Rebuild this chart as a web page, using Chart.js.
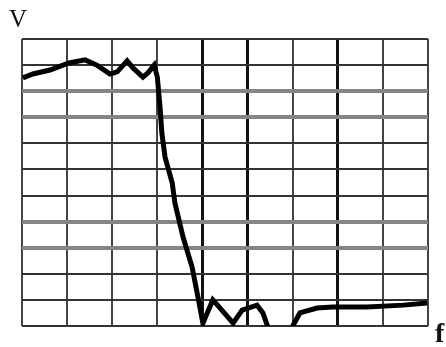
<!DOCTYPE html>
<html>
<head>
<meta charset="utf-8">
<script src="https://cdn.jsdelivr.net/npm/chart.js@4.4.0/dist/chart.umd.min.js"></script>
<style>
  html, body { margin: 0; padding: 0; background: #fff; }
  #wrap { position: relative; width: 446px; height: 347px; }
  .lbl { position: absolute; font-family: "Liberation Serif", "DejaVu Serif", serif; color: #111; line-height: 1; }
</style>
</head>
<body>
<div id="wrap">
  <canvas id="chart" width="446" height="347"></canvas>
  <div class="lbl" style="left:9px; top:6px; font-size:25px;">V</div>
  <div class="lbl" style="left:435px; top:319px; font-size:28px; font-weight:bold;">f</div>
</div>
<script>
// frequency (grid units) and response (grid units)
const freq = [0.02, 0.24, 0.62, 1.04, 1.40, 1.66, 1.95, 2.11, 2.33, 2.46, 2.68, 2.79, 2.93, 3.00,
  3.06, 3.10, 3.17, 3.33, 3.39, 3.57, 3.77, 3.90, 4.01, 4.23, 4.43, 4.68, 4.88, 5.21, 5.34, 5.45,
  5.70, 5.99, 6.16, 6.54, 6.89, 7.65, 8.45, 8.98];
const volts = [9.51, 9.66, 9.81, 10.08, 10.20, 10.00, 9.66, 9.74, 10.16, 9.89, 9.54, 9.70, 10.00, 9.54,
  8.39, 7.40, 6.48, 5.48, 4.71, 3.41, 2.26, 1.11, 0.11, 1.00, 0.61, 0.11, 0.61, 0.80, 0.50, -0.04,
  -0.8, -0.04, 0.50, 0.69, 0.73, 0.73, 0.80, 0.88];

const xMax = 9, yMax = 11;
const heavyX = [4, 5, 7];      // darker verticals
const shadedY = [3, 4, 8, 9];  // thick grey horizontals

const points = freq.map((f, i) => ({ x: f, y: volts[i] }));

new Chart(document.getElementById('chart'), {
  type: 'line',
  data: {
    datasets: [{
      data: points,
      borderColor: '#000',
      borderWidth: 5,
      pointRadius: 0,
      tension: 0,
      fill: false
    }]
  },
  options: {
    responsive: false,
    animation: false,
    layout: { padding: { left: 22, right: 18, top: 39, bottom: 21 } },
    plugins: { legend: { display: false }, tooltip: { enabled: false } },
    scales: {
      x: {
        type: 'linear', min: 0, max: xMax,
        ticks: { display: false, stepSize: 1 },
        border: { display: false },
        grid: {
          drawTicks: false,
          color: ctx => heavyX.includes(ctx.tick.value) ? '#111' : '#444',
          lineWidth: ctx => heavyX.includes(ctx.tick.value) ? 3 : 2
        }
      },
      y: {
        type: 'linear', min: 0, max: yMax,
        ticks: { display: false, stepSize: 1 },
        border: { display: false },
        grid: {
          drawTicks: false,
          color: ctx => shadedY.includes(ctx.tick.value) ? '#858585' : '#333',
          lineWidth: ctx => shadedY.includes(ctx.tick.value) ? 4 : 2
        }
      }
    }
  }
});
</script>
</body>
</html>
